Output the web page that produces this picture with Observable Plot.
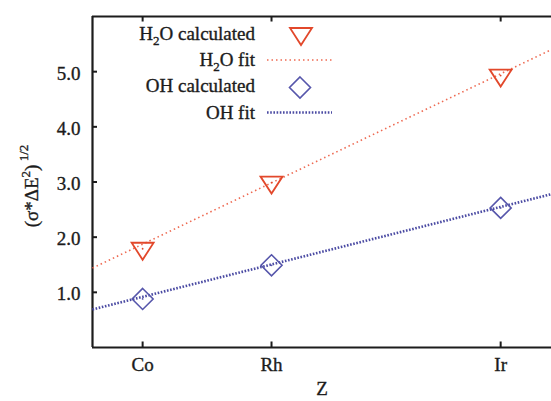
<!DOCTYPE html>
<html>
<head>
<meta charset="utf-8">
<script src="https://cdn.jsdelivr.net/npm/d3@7"></script>
<script src="https://cdn.jsdelivr.net/npm/@observablehq/plot@0.6"></script>
<style>
  html, body { margin: 0; padding: 0; background: #ffffff; overflow: hidden; }
  #chart { width: 551px; height: 401px; }
  #chart svg, #chart svg text { font-family: "Liberation Serif", "DejaVu Serif", serif !important; }
  #chart svg text { stroke: #1c1c1c; stroke-width: 0.35px; }
</style>
</head>
<body>
<div id="chart"></div>
<script>
// ---- data ----
const elements = ["Co", "Rh", "Ir"];
const zValues = [27, 45, 77];
const h2oCalc = [1.79, 2.99, 4.93];
const ohCalc = [0.88, 1.49, 2.53];
const fitZ = [20, 84.1];
const h2oFit = [1.44, 5.40];
const ohFit = [0.69, 2.78];
const yTicks = [1, 2, 3, 4, 5];
const xDomain = [20, 84.1];
const yDomain = [0, 6];

const red = "#e2482b";
const redFit = "#ee6a52";
const blue = "#5656ab";
const blueFit = "#4b4ba3";
const ink = "#1c1c1c";
const ff = "\"Liberation Serif\", \"DejaVu Serif\", serif";

const triDown = { draw(ctx) { ctx.moveTo(-11, -6); ctx.lineTo(11, -6); ctx.lineTo(0, 11); ctx.closePath(); } };
const diamond = { draw(ctx) { ctx.moveTo(0, -10.5); ctx.lineTo(10.5, 0); ctx.lineTo(0, 10.5); ctx.lineTo(-10.5, 0); ctx.closePath(); } };

const h2oPts = zValues.map((z, i) => ({z, v: h2oCalc[i]}));
const ohPts = zValues.map((z, i) => ({z, v: ohCalc[i]}));
const h2oLine = fitZ.map((z, i) => ({z, v: h2oFit[i]}));
const ohLine = fitZ.map((z, i) => ({z, v: ohFit[i]}));

const plot = Plot.plot({
  width: 551,
  height: 401,
  marginLeft: 92,
  marginRight: 0,
  marginTop: 16,
  marginBottom: 54,
  x: {domain: xDomain},
  y: {domain: yDomain},
  style: {fontFamily: ff, fontSize: "19px", color: ink, background: "#fff"},
  marks: [
    // frame (left, bottom, top)
    Plot.ruleY([yDomain[0]], {stroke: ink, strokeWidth: 2.2}),
    Plot.ruleY([yDomain[1]], {stroke: ink, strokeWidth: 2.2}),
    Plot.ruleX([xDomain[0]], {stroke: ink, strokeWidth: 2.2}),
    // inward ticks
    Plot.ruleX(zValues, {x: d => d, y1: 0, y2: 0.1, stroke: ink, strokeWidth: 2}),
    Plot.ruleX(zValues, {x: d => d, y1: 5.9, y2: 6, stroke: ink, strokeWidth: 2}),
    Plot.ruleY(yTicks, {y: d => d, x1: 20, x2: 20.7, stroke: ink, strokeWidth: 2}),
    // axes labels
    Plot.axisX(zValues, {anchor: "bottom", tickSize: 0, tickPadding: 10, tickFormat: d => elements[zValues.indexOf(d)], label: null, fill: ink}),
    Plot.axisY(yTicks, {anchor: "left", tickSize: 0, tickPadding: 12, tickFormat: d3.format(".1f"), label: null, dy: 2, fill: ink}),
    Plot.text(["Z"], {frameAnchor: "bottom", dy: 47, fill: ink}),
    // fits
    Plot.line(h2oLine, {x: "z", y: "v", stroke: redFit, strokeWidth: 1.6, strokeDasharray: "1.5,3", strokeLinecap: "butt"}),
    Plot.line(ohLine, {x: "z", y: "v", stroke: blueFit, strokeWidth: 2.6, strokeDasharray: "1.6,1.6", strokeLinecap: "butt"}),
    // calculated points
    Plot.dot(h2oPts, {x: "z", y: "v", symbol: triDown, r: 8, stroke: red, strokeWidth: 1.8, fill: "none"}),
    Plot.dot(ohPts, {x: "z", y: "v", symbol: diamond, r: 8, stroke: blue, strokeWidth: 1.6, fill: "none"}),
    Plot.dot(h2oPts, {x: "z", y: "v", r: 0.9, fill: red}),
    Plot.dot(ohPts, {x: "z", y: "v", r: 0.9, fill: blue})
  ]
});
document.getElementById("chart").appendChild(plot);

// ---- legend and y label (with sub/superscripts) ----
const svg = d3.select(plot);
const lg = svg.append("g").attr("font-family", ff).attr("font-size", 19).attr("fill", ink);

function label(y, parts) {
  const t = lg.append("text").attr("x", 255).attr("y", y).attr("text-anchor", "end");
  let shifted = false;
  parts.forEach(([s, sub]) => {
    const ts = t.append("tspan").text(s);
    if (sub) { ts.attr("font-size", 13).attr("dy", 5); shifted = true; }
    else if (shifted) { ts.attr("dy", -5); shifted = false; }
  });
  return t;
}
label(39.5, [["H", false], ["2", true], ["O calculated", false]]);
label(65.5, [["H", false], ["2", true], ["O fit", false]]);
label(92, [["OH calculated", false]]);
label(118.5, [["OH fit", false]]);

lg.append("path").attr("transform", "translate(301,34)")
  .attr("d", "M-11,-6L11,-6L0,11Z").attr("fill", "none").attr("stroke", red).attr("stroke-width", 1.8);
lg.append("line").attr("x1", 267).attr("x2", 332).attr("y1", 60).attr("y2", 60)
  .attr("stroke", redFit).attr("stroke-width", 1.6).attr("stroke-dasharray", "1.5,3");
lg.append("path").attr("transform", "translate(300,87.5)")
  .attr("d", "M0,-10.5L10.5,0L0,10.5L-10.5,0Z").attr("fill", "none").attr("stroke", blue).attr("stroke-width", 1.6);
lg.append("line").attr("x1", 267).attr("x2", 332).attr("y1", 112.5).attr("y2", 112.5)
  .attr("stroke", blueFit).attr("stroke-width", 2.6).attr("stroke-dasharray", "1.6,1.6");

const yl = svg.append("text")
  .attr("transform", "translate(38,186) rotate(-90)")
  .attr("text-anchor", "middle")
  .attr("font-family", ff).attr("font-size", 19).attr("fill", ink);
yl.append("tspan").text("(σ*ΔE");
yl.append("tspan").text("2").attr("font-size", 13).attr("dy", -8);
yl.append("tspan").text(")").attr("dy", 8);
yl.append("tspan").text(" 1/2").attr("font-size", 13).attr("dy", -10);
</script>
</body>
</html>
